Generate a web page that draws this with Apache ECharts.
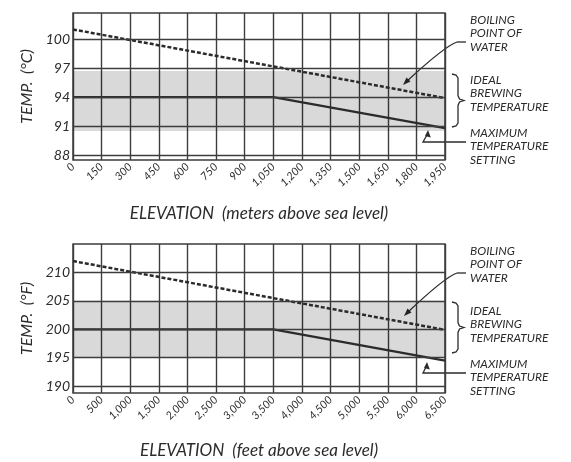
<!DOCTYPE html>
<html>
<head>
<meta charset="utf-8">
<script src="https://cdn.jsdelivr.net/npm/echarts@6/dist/echarts.min.js"></script>
<style>
html, body { margin: 0; padding: 0; background: #fff; }
#main { width: 571px; height: 462px; }
</style>
</head>
<body>
<div id="main"></div>
<script>
// top chart, celsius / meters
var elevM = [0, 1050, 1950];
var boilC = [101, 93.9];
var maxC = [94, 94, 90.8];
var idealC = [90.5, 96.7];
var yTicksC = [88, 91, 94, 97, 100];

// bottom chart, fahrenheit / feet
var elevFt = [0, 3500, 6500];
var boilF = [212, 199.9];
var maxF = [200, 200, 194.5];
var idealF = [195, 205];
var yTicksF = [190, 195, 200, 205, 210];

var ink = '#2b2b2b';
var gridInk = '#3d3d3d';
var fontFam = 'Lato, "Open Sans", sans-serif';

var chart = echarts.init(document.getElementById('main'));

function fmt(v) {
    return v.toLocaleString('en-US');
}

function xAxisFor(idx, max, step, name, gap) {
    return {
        gridIndex: idx,
        type: 'value',
        min: 0,
        max: max,
        interval: step,
        name: name,
        nameLocation: 'middle',
        nameGap: gap,
        nameTextStyle: { fontStyle: 'italic', fontSize: 17, color: ink, fontFamily: fontFam },
        axisLine: { show: false },
        axisTick: { show: false },
        axisLabel: { rotate: 45, fontStyle: 'italic', fontSize: 11, color: ink, fontFamily: fontFam, margin: 5, formatter: fmt },
        splitLine: { show: true, lineStyle: { color: gridInk, width: 1.4 } }
    };
}

function yAxisFor(idx, min, max, ticks, name) {
    return {
        gridIndex: idx,
        type: 'value',
        min: min,
        max: max,
        name: name,
        nameLocation: 'middle',
        nameGap: 35,
        nameTextStyle: { fontStyle: 'italic', fontSize: 16, color: ink, fontFamily: fontFam },
        axisLine: { show: false },
        axisTick: { show: false },
        axisLabel: { customValues: ticks, fontStyle: 'italic', fontSize: 14, color: ink, fontFamily: fontFam, margin: 3 },
        splitLine: { show: false }
    };
}

function pairs(xs, ys) {
    var out = [];
    for (var i = 0; i < xs.length; i++) out.push([xs[i], ys[i]]);
    return out;
}

function seriesFor(idx, xs, boil, maxT, ideal, ticks) {
    var hl = ticks.map(function (t) { return { yAxis: t }; });
    return [
        {
            type: 'line',
            xAxisIndex: idx, yAxisIndex: idx,
            data: pairs([xs[0], xs[xs.length - 1]], boil),
            symbol: 'none',
            lineStyle: { color: ink, width: 2.5, type: [4, 2] },
            z: 4
        },
        {
            type: 'line',
            xAxisIndex: idx, yAxisIndex: idx,
            data: pairs(xs, maxT),
            symbol: 'none',
            lineStyle: { color: ink, width: 2.2 },
            z: 4,
            markArea: {
                silent: true,
                itemStyle: { color: 'rgba(0,0,0,0.15)' },
                data: [[{ yAxis: ideal[0] }, { yAxis: ideal[1] }]]
            },
            markLine: {
                silent: true,
                symbol: 'none',
                label: { show: false },
                lineStyle: { color: gridInk, width: 1.4, type: 'solid' },
                data: hl
            }
        }
    ];
}

function txt(x, y, s) {
    return {
        type: 'text', x: x, y: y, silent: true,
        style: { text: s, font: 'italic 12px ' + fontFam, fill: ink, lineHeight: 13.5 }
    };
}

var strokeStyle = { fill: null, stroke: ink, lineWidth: 1.3 };

function pline(pts) {
    return { type: 'polyline', silent: true, shape: { points: pts }, style: strokeStyle };
}

function tri(pts) {
    return { type: 'polygon', silent: true, shape: { points: pts }, style: { fill: ink } };
}

function notes(dy, b, m, top, bot) {
    var by = 42 + dy, my = 142 + dy, mid = (top + bot) / 2;
    return [
        txt(470, 13 + dy, 'BOILING\nPOINT OF\nWATER'),
        txt(470, 73 + dy, 'IDEAL\nBREWING\nTEMPERATURE'),
        txt(470, 126 + dy, 'MAXIMUM\nTEMPERATURE\nSETTING'),
        pline([[466, by], [457, by]]),
        {
            type: 'bezierCurve', silent: true,
            shape: { x1: 457, y1: by, cpx1: 445, cpy1: by + 4, x2: b[0] + 3, y2: b[1] - 3 },
            style: strokeStyle
        },
        tri([[b[0], b[1]], [b[0] + 3.5, b[1] - 7.5], [b[0] + 7.5, b[1] - 3.5]]),
        pline([[466, my], [423, my], [m[0] - 0.5, m[1] + 4]]),
        tri([[m[0], m[1]], [m[0] + 2.8, m[1] + 7.5], [m[0] - 3, m[1] + 6]]),
        pline([[452, top], [456, top + 1], [458, top + 4], [458, mid - 5], [459.5, mid - 1.5], [464, mid],
               [459.5, mid + 1.5], [458, mid + 5], [458, bot - 4], [456, bot - 1], [452, bot]])
    ];
}

var option = {
    backgroundColor: '#fff',
    animation: false,
    grid: [
        { left: 73, right: 126, top: 13, height: 147, show: true, borderColor: gridInk, borderWidth: 1.5 },
        { left: 73, right: 126, top: 244, height: 149, show: true, borderColor: gridInk, borderWidth: 1.5 }
    ],
    xAxis: [
        xAxisFor(0, 1950, 150, 'ELEVATION  (meters above sea level)', 45),
        xAxisFor(1, 6500, 500, 'ELEVATION  (feet above sea level)', 49)
    ],
    yAxis: [
        yAxisFor(0, 87.5, 102.7, yTicksC, 'TEMP.  (°C)'),
        yAxisFor(1, 188.8, 215, yTicksF, 'TEMP.  (°F)')
    ],
    series: seriesFor(0, elevM, boilC, maxC, idealC, yTicksC)
        .concat(seriesFor(1, elevFt, boilF, maxF, idealF, yTicksF)),
    graphic: notes(0, [403, 85], [428, 130], 74, 127)
        .concat(notes(231, [404, 316], [427, 362], 302, 353))
};

chart.setOption(option);
</script>
</body>
</html>
